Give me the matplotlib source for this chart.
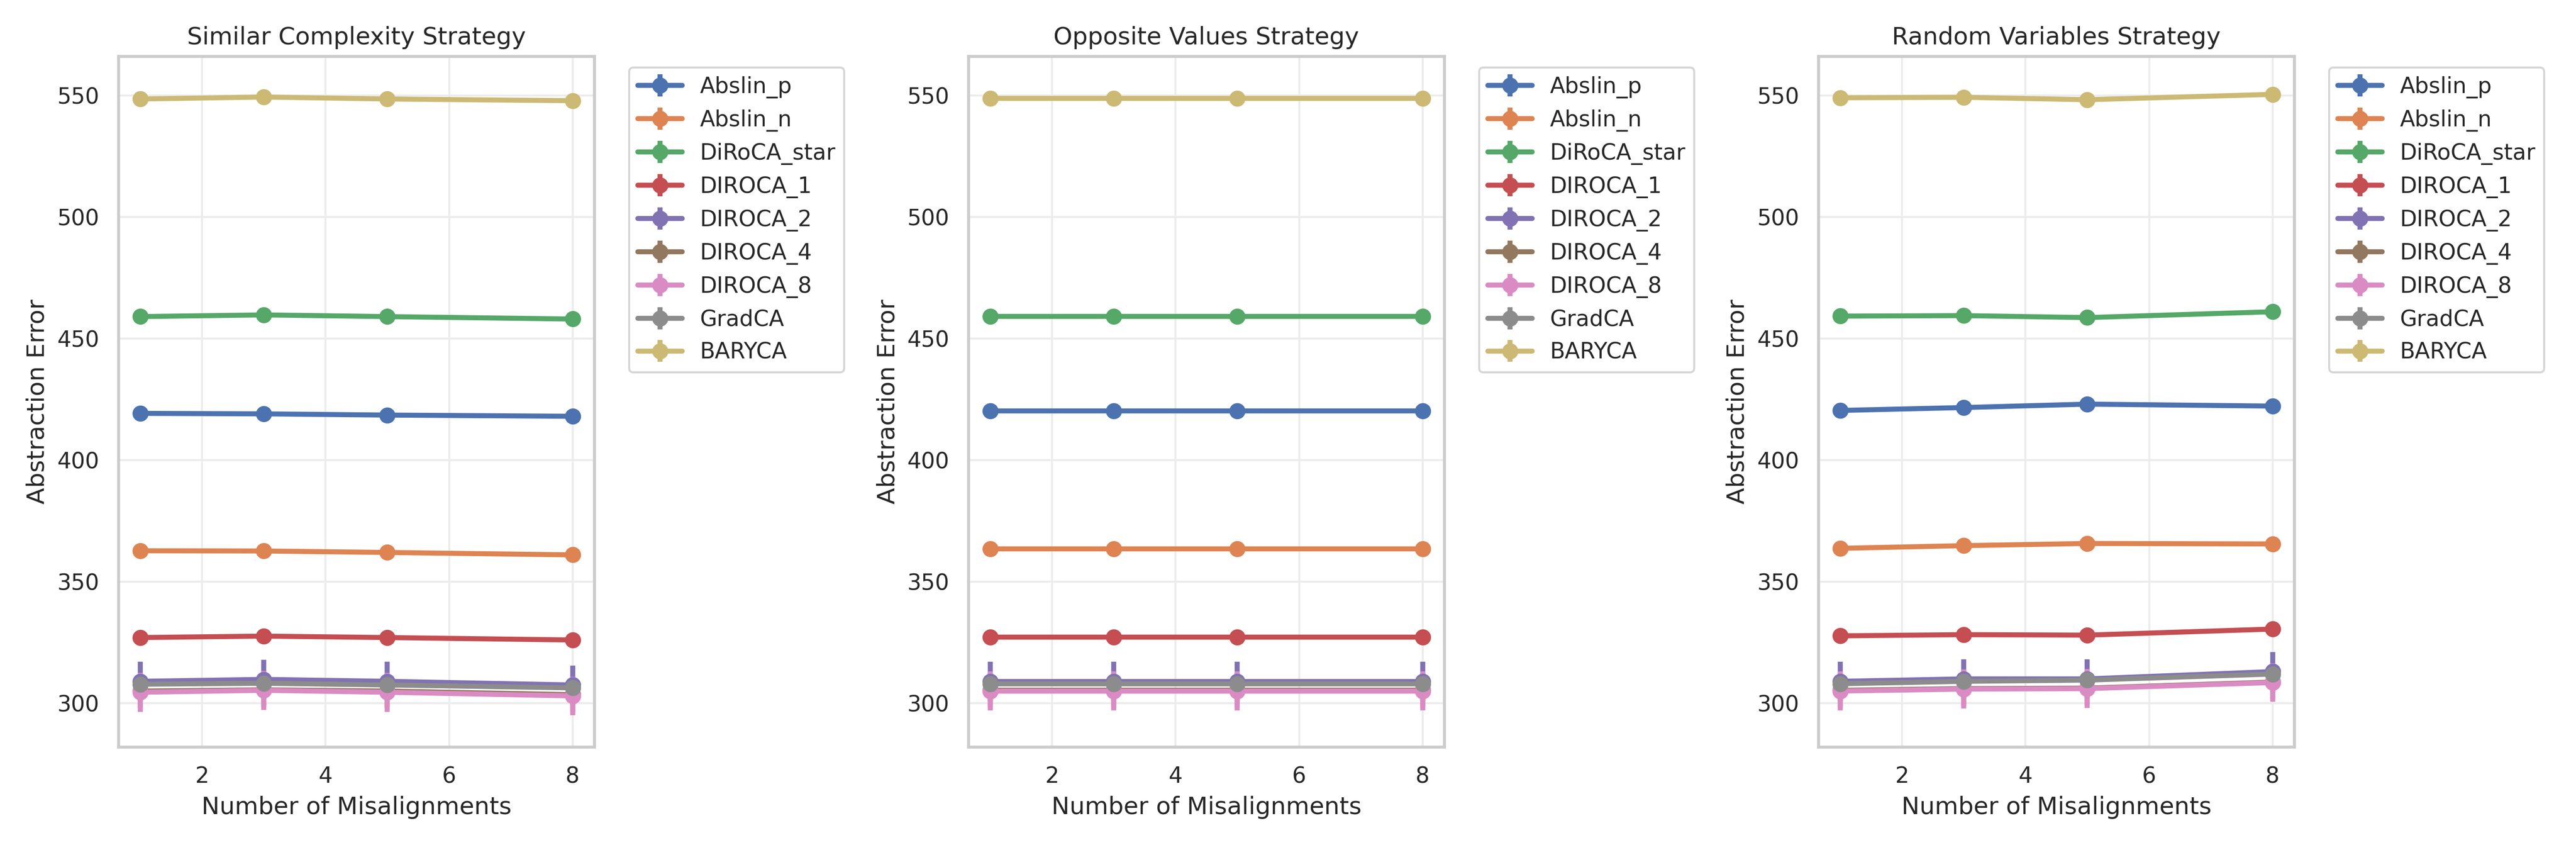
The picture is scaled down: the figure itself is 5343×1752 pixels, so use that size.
import numpy as np
import matplotlib
matplotlib.use("Agg")
from matplotlib import pyplot as plt
import seaborn as sns

sns.set_theme(style="whitegrid")
plt.rcParams['font.family'] = ['DejaVu Sans']
plt.rcParams['grid.color'] = '#ececec'

x = [1, 3, 5, 8]
methods = ["Abslin_p", "Abslin_n", "DiRoCA_star", "DIROCA_1", "DIROCA_2",
           "DIROCA_4", "DIROCA_8", "GradCA", "BARYCA"]
titles = ["Similar Complexity Strategy", "Opposite Values Strategy", "Random Variables Strategy"]

similar = {
    "Abslin_p": [419.2, 419.0, 418.5, 418.0],
    "Abslin_n": [362.7, 362.6, 362.0, 361.0],
    "DiRoCA_star": [459.0, 459.7, 459.0, 458.0],
    "DIROCA_1": [327.0, 327.6, 327.0, 326.0],
    "DIROCA_2": [309.0, 309.8, 309.0, 307.5],
    "DIROCA_4": [305.0, 305.5, 305.0, 303.5],
    "DIROCA_8": [304.5, 305.3, 304.5, 303.0],
    "GradCA": [307.8, 308.2, 307.5, 306.3],
    "BARYCA": [548.5, 549.3, 548.5, 547.8],
}
opposite = {
    "Abslin_p": [420.3, 420.3, 420.3, 420.3],
    "Abslin_n": [363.5, 363.5, 363.5, 363.5],
    "DiRoCA_star": [459.0, 459.0, 459.0, 459.0],
    "DIROCA_1": [327.2, 327.2, 327.2, 327.2],
    "DIROCA_2": [309.0, 309.0, 309.0, 309.0],
    "DIROCA_4": [305.3, 305.3, 305.3, 305.3],
    "DIROCA_8": [305.0, 305.0, 305.0, 305.0],
    "GradCA": [308.0, 308.0, 308.0, 308.0],
    "BARYCA": [548.8, 548.8, 548.8, 548.8],
}
random_vars = {
    "Abslin_p": [420.4, 421.6, 423.0, 422.2],
    "Abslin_n": [363.7, 364.8, 365.7, 365.5],
    "DiRoCA_star": [459.2, 459.4, 458.6, 461.0],
    "DIROCA_1": [327.7, 328.2, 328.0, 330.5],
    "DIROCA_2": [309.0, 310.0, 310.0, 313.0],
    "DIROCA_4": [305.3, 306.0, 306.2, 308.7],
    "DIROCA_8": [305.0, 305.8, 306.0, 308.5],
    "GradCA": [308.0, 309.0, 309.5, 312.0],
    "BARYCA": [549.0, 549.2, 548.2, 550.4],
}
# standard deviations (rough)
errs = {
    "Abslin_p": 0.5, "Abslin_n": 0.5, "DiRoCA_star": 2.0, "DIROCA_1": 2.0,
    "DIROCA_2": 8.0, "DIROCA_4": 7.0, "DIROCA_8": 8.0, "GradCA": 1.0, "BARYCA": 2.0,
}
all_data = [similar, opposite, random_vars]

colors = sns.color_palette("deep", 10)[:9]

fig, axes = plt.subplots(1, 3, figsize=(17.81, 5.84), dpi=300)
for ax, data, title in zip(axes, all_data, titles):
    for m, c in zip(methods, colors):
        ax.errorbar(x, data[m], yerr=errs[m], marker='o', ms=7, lw=2.5,
                    elinewidth=2.5, color=c, label=m)
    ax.set_title(title, fontsize=12)
    ax.set_xlabel("Number of Misalignments", fontsize=12)
    ax.set_ylabel("Abstraction Error", fontsize=12)
    ax.set_ylim(282, 566)
    ax.set_xticks([2, 4, 6, 8])
    ax.set_yticks([300, 350, 400, 450, 500, 550])
    for s in ax.spines.values():
        s.set_color('#cccccc')
        s.set_linewidth(1.5)
    ax.legend(bbox_to_anchor=(1.05, 1), loc='upper left', fontsize=11)
plt.tight_layout()
plt.savefig("out.png")
